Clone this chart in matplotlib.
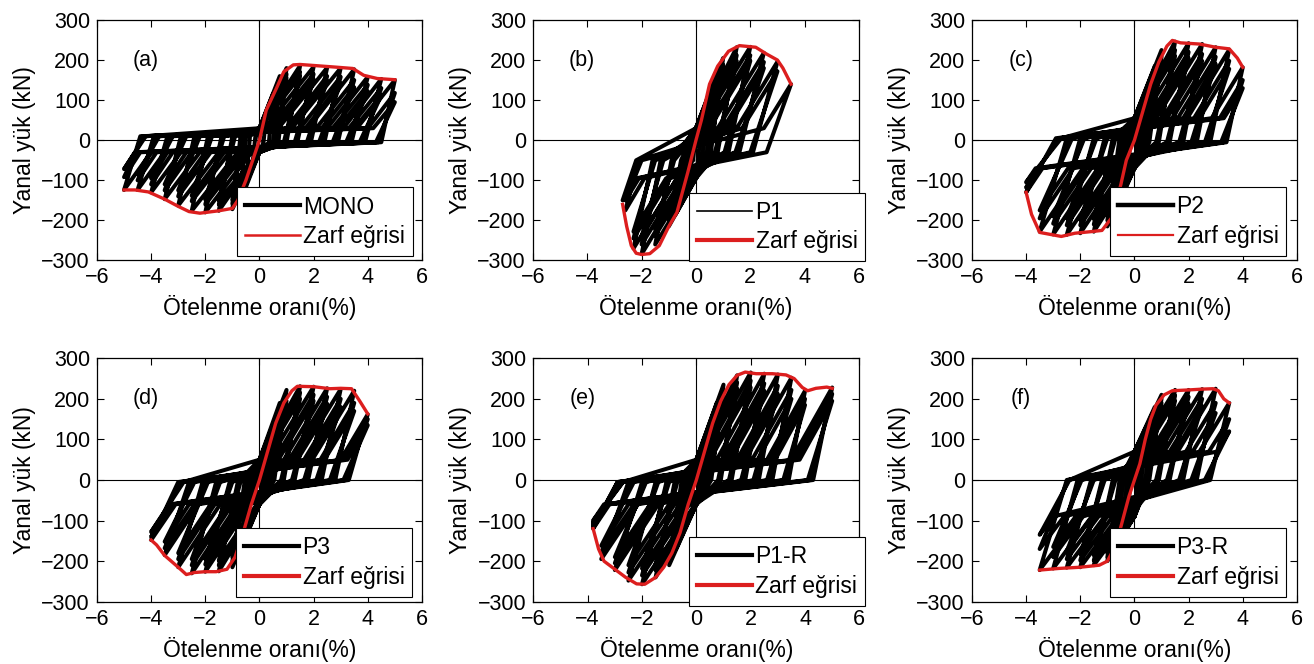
import numpy as np
import matplotlib
matplotlib.use("Agg")
import matplotlib.pyplot as plt
from matplotlib.lines import Line2D

plt.rcParams["font.family"] = ["Liberation Sans", "DejaVu Sans"]

# cycle data per specimen:
#   dp/fp positive peak, up drift where unloading from + ends, kxp drift where + reloading turns up
#   dn/fn negative peak, un drift where unloading from - ends, kxn drift where - reloading turns down
#   pinch = [lp, qn, ln, qp]: load at + unloading end, pinched load going -,
#           load at - unloading end, pinched load going +

# MONO
mono_dp = [0.25, 0.5, 0.75, 1.0, 1.0, 1.0, 1.5, 1.5, 1.5, 2.0, 2.0, 2.0, 2.5, 2.5, 2.5,
           3.0, 3.0, 3.0, 3.5, 3.5, 3.5, 4.0, 4.0, 4.0, 4.5, 4.5, 4.5, 5.0, 5.0, 5.0]
mono_fp = [60, 115, 160, 180, 165, 155, 186, 170, 160, 183, 165, 152, 181, 160, 148,
           180, 158, 142, 177, 150, 132, 158, 138, 122, 153, 130, 112, 150, 118, 95]
mono_up = [0.15, 0.35, 0.5, 0.7, 0.65, 0.6, 1.0, 0.95, 0.9, 1.4, 1.35, 1.3, 1.9, 1.8, 1.75,
           2.4, 2.3, 2.2, 2.9, 2.8, 2.7, 3.4, 3.3, 3.2, 3.9, 3.8, 3.7, 4.5, 4.4, 4.3]
mono_kxp = [0, 0, 0, 0, 0, 0, 0, 0, 0, 0.2, 0.4, 0.55, 0.7, 1.0, 1.1,
            1.2, 1.5, 1.7, 1.8, 2.1, 2.3, 2.5, 2.7, 2.9, 3.1, 3.3, 3.5, 3.6, 4.0, 4.2]
mono_dn = [-0.25, -0.5, -0.75, -1.0, -1.0, -1.0, -1.5, -1.5, -1.5, -2.0, -2.0, -2.0, -2.5, -2.5, -2.5,
           -3.0, -3.0, -3.0, -3.5, -3.5, -3.5, -4.0, -4.0, -4.0, -4.5, -4.5, -4.5, -5.0, -5.0, -5.0]
mono_fn = [-55, -110, -160, -172, -158, -148, -176, -160, -150, -180, -160, -148, -176, -152, -138,
           -163, -140, -125, -147, -125, -110, -130, -110, -95, -124, -100, -85, -124, -92, -72]
mono_un = [-0.15, -0.35, -0.5, -0.7, -0.65, -0.6, -1.0, -0.95, -0.9, -1.4, -1.35, -1.3, -1.9, -1.8, -1.75,
           -2.4, -2.3, -2.2, -2.9, -2.8, -2.7, -3.4, -3.3, -3.2, -3.9, -3.8, -3.7, -4.4, -4.3, -4.2]
mono_kxn = [0, 0, 0, 0, 0, 0, 0, 0, 0, -0.3, -0.5, -0.65, -0.8, -1.1, -1.3,
            -1.5, -1.8, -2.0, -2.2, -2.5, -2.7, -2.9, -3.2, -3.4, -3.5, -3.8, -4.0, -4.0, -4.4, -4.6]
mono_pinch = [-5, -30, 10, 30]
mono_env_x = [-5.0, -4.6, -4.1, -3.5, -3.0, -2.6, -2.2, -1.5, -1.0, -0.8, -0.5, -0.2, 0.0,
              0.25, 0.65, 0.9, 1.25, 1.5, 2.7, 3.45, 3.85, 4.35, 5.0]
mono_env_y = [-124, -124, -129, -147, -165, -178, -182, -176, -170, -150, -100, -40, 0,
              75, 133, 171, 188, 189, 183, 179, 162, 154, 151]

# P1
p1_dp = [0.25, 0.5, 0.75, 1.0, 1.0, 1.0, 1.5, 1.5, 1.5, 2.0, 2.0, 2.0, 2.5, 2.5, 2.5, 3.0, 3.0, 3.5]
p1_fp = [55, 115, 165, 205, 188, 175, 232, 212, 198, 233, 212, 198, 218, 195, 180, 196, 172, 140]
p1_up = [0.1, 0.25, 0.4, 0.55, 0.5, 0.5, 0.8, 0.75, 0.7, 1.2, 1.1, 1.05, 1.6, 1.5, 1.45, 2.1, 2.0, 2.6]
p1_kxp = [0, 0, 0, 0, 0, 0, 0, 0, 0, 0.15, 0.35, 0.5, 0.8, 1.0, 1.15, 1.5, 1.7, 2.5]
p1_dn = [-0.25, -0.5, -0.75, -1.0, -1.0, -1.0, -1.5, -1.5, -1.5, -2.0, -2.0, -2.0, -2.3, -2.3, -2.3, -2.6, -2.6, -2.7]
p1_fn = [-60, -120, -185, -215, -198, -185, -260, -238, -222, -284, -260, -240, -270, -245, -228, -175, -150, -150]
p1_un = [-0.1, -0.25, -0.4, -0.55, -0.5, -0.5, -0.9, -0.85, -0.8, -1.3, -1.25, -1.2, -1.6, -1.55, -1.5, -2.1, -2.0, -2.2]
p1_kxn = [0, 0, 0, 0, 0, -0.18, 0, -0.2, -0.35, -0.3, -0.5, -0.7, -0.7, -0.95, -1.1, -1.9, -2.1, -2.2]
p1_pinch = [-30, -95, -50, 30]
p1_env_x = [-2.7, -2.55, -2.38, -2.2, -2.0, -1.7, -1.35, -1.0, -0.7, -0.3, 0.0,
            0.2, 0.5, 0.8, 1.2, 1.6, 2.2, 2.6, 3.0, 3.2, 3.5]
p1_env_y = [-160, -215, -263, -282, -285, -283, -263, -215, -180, -80, 0,
            50, 140, 185, 222, 236, 232, 215, 200, 180, 140]

# P2
p2_dp = [0.25, 0.5, 0.75, 1.0, 1.0, 1.0, 1.5, 1.5, 1.5, 2.0, 2.0, 2.0,
         2.5, 2.5, 2.5, 3.0, 3.0, 3.0, 3.5, 3.5, 3.5, 4.0, 4.0, 4.0]
p2_fp = [60, 125, 185, 225, 208, 195, 246, 225, 210, 242, 220, 205,
         240, 215, 198, 232, 208, 190, 226, 198, 178, 182, 150, 130]
p2_up = [0.1, 0.25, 0.4, 0.55, 0.5, 0.5, 0.9, 0.85, 0.8, 1.3, 1.25, 1.2,
         1.8, 1.7, 1.65, 2.3, 2.2, 2.1, 2.8, 2.7, 2.6, 3.4, 3.3, 3.2]
p2_kxp = [0, 0, 0, 0, 0, 0, 0, 0, 0.1, 0.3, 0.5, 0.65,
          0.8, 1.05, 1.2, 1.4, 1.6, 1.8, 1.95, 2.2, 2.4, 2.85, 3.15, 3.3]
p2_dn = [-0.25, -0.5, -0.75, -1.0, -1.0, -1.0, -1.5, -1.5, -1.5, -2.0, -2.0, -2.0,
         -2.5, -2.5, -2.5, -3.0, -3.0, -3.0, -3.5, -3.5, -3.5, -4.0, -4.0, -4.0]
p2_fn = [-55, -120, -185, -215, -200, -188, -228, -210, -196, -232, -212, -198,
         -236, -212, -195, -235, -208, -190, -228, -195, -175, -130, -118, -105]
p2_un = [-0.1, -0.25, -0.4, -0.55, -0.5, -0.5, -0.8, -0.75, -0.7, -1.1, -1.05, -1.0,
         -1.5, -1.45, -1.4, -2.0, -1.9, -1.85, -2.5, -2.4, -2.3, -2.9, -2.8, -2.7]
p2_kxn = [0, 0, 0, 0, 0, 0, 0, -0.1, -0.25, -0.4, -0.6, -0.7,
          -0.85, -1.1, -1.25, -1.35, -1.6, -1.8, -1.9, -2.25, -2.45, -3.4, -3.5, -3.65]
p2_pinch = [-5, -70, 5, 55]
p2_env_x = [-4.0, -3.8, -3.5, -3.1, -2.7, -2.2, -1.6, -1.2, -0.8, -0.5, -0.3, 0.0,
            0.3, 0.6, 0.9, 1.2, 1.4, 1.7, 2.4, 3.0, 3.5, 3.8, 4.0]
p2_env_y = [-130, -185, -230, -235, -240, -232, -228, -225, -190, -110, -50, 0,
            70, 140, 195, 235, 249, 243, 240, 232, 228, 205, 182]

# P3
p3_dp = [0.25, 0.5, 0.75, 1.0, 1.0, 1.0, 1.5, 1.5, 1.5, 2.0, 2.0, 2.0,
         2.5, 2.5, 2.5, 3.0, 3.0, 3.0, 3.5, 3.5, 3.5, 4.0, 4.0, 4.0]
p3_fp = [60, 130, 190, 222, 208, 195, 231, 215, 200, 230, 210, 195,
         226, 205, 188, 224, 200, 180, 220, 190, 170, 162, 150, 135]
p3_up = [0.1, 0.25, 0.4, 0.55, 0.5, 0.5, 0.9, 0.85, 0.8, 1.3, 1.25, 1.2,
         1.8, 1.7, 1.65, 2.3, 2.2, 2.1, 2.8, 2.7, 2.6, 3.3, 3.2, 3.1]
p3_kxp = [0, 0, 0, 0, 0, 0, 0, 0, 0.15, 0.35, 0.55, 0.7,
          0.9, 1.1, 1.25, 1.4, 1.65, 1.8, 1.95, 2.25, 2.4, 3.0, 3.1, 3.25]
p3_dn = [-0.25, -0.5, -0.75, -1.0, -1.0, -1.0, -1.5, -1.5, -1.5, -2.0, -2.0, -2.0,
         -2.5, -2.5, -2.5, -3.0, -3.0, -3.0, -3.5, -3.5, -3.5, -4.0, -4.0, -4.0]
p3_fn = [-55, -120, -180, -215, -200, -190, -225, -210, -198, -226, -208, -195,
         -230, -210, -195, -215, -195, -180, -185, -168, -152, -148, -140, -128]
p3_un = [-0.1, -0.25, -0.4, -0.55, -0.5, -0.5, -0.8, -0.75, -0.7, -1.1, -1.05, -1.0,
         -1.6, -1.5, -1.45, -2.1, -2.0, -1.9, -2.6, -2.5, -2.4, -3.0, -2.9, -2.8]
p3_kxn = [0, 0, 0, 0, 0, 0, 0, 0, -0.1, -0.35, -0.5, -0.65,
          -0.8, -1.0, -1.15, -1.45, -1.65, -1.8, -2.25, -2.4, -2.6, -3.1, -3.2, -3.3]
p3_pinch = [0, -60, -5, 50]
p3_env_x = [-4.0, -3.8, -3.5, -3.0, -2.7, -2.4, -2.0, -1.6, -1.2, -0.9, -0.6, -0.3, 0.0,
            0.3, 0.6, 0.9, 1.2, 1.4, 2.0, 2.6, 3.0, 3.4, 3.7, 4.0]
p3_env_y = [-148, -160, -186, -215, -233, -228, -226, -226, -220, -190, -130, -60, 0,
            70, 140, 190, 220, 231, 230, 225, 226, 225, 195, 163]

# P1-R
p1r_dp = [0.25, 0.5, 0.75, 1.0, 1.0, 1.0, 1.5, 1.5, 1.5, 2.0, 2.0, 2.0, 2.5, 2.5, 2.5,
          3.0, 3.0, 3.0, 3.5, 3.5, 3.5, 4.0, 4.0, 4.0, 5.0, 5.0, 5.0]
p1r_fp = [60, 130, 190, 235, 220, 205, 258, 240, 225, 265, 245, 228, 262, 238, 220,
          260, 232, 212, 252, 222, 200, 220, 200, 185, 228, 212, 195]
p1r_up = [0.1, 0.25, 0.4, 0.55, 0.5, 0.5, 0.9, 0.85, 0.8, 1.3, 1.25, 1.2, 1.8, 1.7, 1.65,
          2.3, 2.2, 2.1, 2.8, 2.7, 2.6, 3.4, 3.3, 3.2, 4.3, 4.2, 4.1]
p1r_kxp = [0, 0, 0, 0, 0, 0, 0, 0, 0.05, 0.2, 0.4, 0.5, 0.75, 0.95, 1.1,
           1.25, 1.5, 1.65, 1.8, 2.05, 2.25, 2.6, 2.75, 2.9, 3.5, 3.65, 3.8]
p1r_dn = [-0.25, -0.5, -0.75, -1.0, -1.0, -1.0, -1.5, -1.5, -1.5, -2.0, -2.0, -2.0, -2.5, -2.5, -2.5,
          -3.0, -3.0, -3.0, -3.5, -3.5, -3.5, -3.8, -3.8, -3.8, -3.8, -3.8, -3.8]
p1r_fn = [-60, -120, -170, -210, -198, -188, -240, -222, -208, -257, -235, -218, -248, -228, -210,
          -222, -205, -190, -195, -178, -162, -120, -112, -105, -116, -108, -100]
p1r_un = [-0.1, -0.25, -0.4, -0.55, -0.5, -0.5, -0.8, -0.75, -0.7, -1.1, -1.05, -1.0, -1.5, -1.45, -1.4,
          -2.0, -1.9, -1.85, -2.5, -2.4, -2.3, -2.9, -2.8, -2.7, -2.9, -2.8, -2.7]
p1r_kxn = [0, 0, 0, 0, 0, 0, 0, 0, 0, -0.05, -0.25, -0.4, -0.6, -0.8, -1.0,
           -1.4, -1.55, -1.7, -2.15, -2.3, -2.5, -3.2, -3.3, -3.35, -3.25, -3.3, -3.4]
p1r_pinch = [0, -60, -5, 50]
p1r_env_x = [-3.8, -3.6, -3.4, -3.0, -2.6, -2.2, -1.9, -1.5, -1.2, -0.9, -0.6, -0.3, 0.0,
             0.3, 0.6, 0.9, 1.2, 1.5, 1.8, 2.2, 2.8, 3.3, 3.6, 3.9, 4.1, 4.4, 4.8, 5.0]
p1r_env_y = [-120, -170, -200, -220, -240, -256, -257, -240, -215, -180, -130, -60, 0,
             70, 140, 195, 235, 258, 266, 262, 262, 259, 250, 228, 220, 226, 229, 226]

# P3-R
p3r_dp = [0.25, 0.5, 0.75, 1.0, 1.0, 1.0, 1.5, 1.5, 1.5, 2.0, 2.0, 2.0,
          2.5, 2.5, 2.5, 3.0, 3.0, 3.0, 3.5, 3.5, 3.5]
p3r_fp = [70, 135, 180, 210, 200, 190, 222, 208, 195, 222, 205, 188,
          224, 200, 182, 225, 190, 165, 190, 150, 120]
p3r_up = [0.1, 0.25, 0.4, 0.55, 0.5, 0.5, 0.9, 0.85, 0.8, 1.3, 1.25, 1.2,
          1.8, 1.7, 1.65, 2.3, 2.2, 2.1, 2.8, 2.7, 2.6]
p3r_kxp = [0, 0, 0, 0, 0, 0, 0.1, 0.25, 0.35, 0.6, 0.75, 0.9,
           1.1, 1.3, 1.5, 1.6, 1.9, 2.15, 2.4, 2.75, 3.05]
p3r_dn = [-0.25, -0.5, -0.75, -1.0, -1.0, -1.0, -1.5, -1.5, -1.5, -2.0, -2.0, -2.0,
          -2.5, -2.5, -2.5, -3.0, -3.0, -3.0, -3.5, -3.5, -3.5]
p3r_fn = [-60, -120, -165, -200, -190, -180, -210, -198, -185, -215, -198, -182,
          -216, -195, -176, -218, -190, -165, -222, -170, -135]
p3r_un = [-0.1, -0.25, -0.4, -0.55, -0.5, -0.5, -0.8, -0.75, -0.7, -1.2, -1.15, -1.1,
          -1.6, -1.55, -1.5, -2.1, -2.0, -1.95, -2.5, -2.45, -2.4]
p3r_kxn = [0, 0, 0, 0, 0, 0, -0.17, -0.3, -0.45, -0.6, -0.8, -1.0,
           -1.1, -1.33, -1.55, -1.58, -1.9, -2.17, -2.03, -2.6, -3.0]
p3r_pinch = [0, -90, 0, 70]
p3r_env_x = [-3.5, -2.8, -2.0, -1.3, -1.0, -0.8, -0.6, -0.4, -0.2, 0.0,
             0.2, 0.4, 0.6, 0.8, 1.1, 1.4, 2.0, 2.5, 2.9, 3.1, 3.3, 3.5]
p3r_env_y = [-222, -218, -215, -210, -200, -175, -140, -90, -40, 0,
             40, 100, 150, 185, 210, 220, 222, 224, 225, 220, 200, 190]

names = ["MONO", "P1", "P2", "P3", "P1-R", "P3-R"]
tags = ["(a)", "(b)", "(c)", "(d)", "(e)", "(f)"]
cycles = [
    (mono_dp, mono_fp, mono_up, mono_kxp, mono_dn, mono_fn, mono_un, mono_kxn, mono_pinch),
    (p1_dp, p1_fp, p1_up, p1_kxp, p1_dn, p1_fn, p1_un, p1_kxn, p1_pinch),
    (p2_dp, p2_fp, p2_up, p2_kxp, p2_dn, p2_fn, p2_un, p2_kxn, p2_pinch),
    (p3_dp, p3_fp, p3_up, p3_kxp, p3_dn, p3_fn, p3_un, p3_kxn, p3_pinch),
    (p1r_dp, p1r_fp, p1r_up, p1r_kxp, p1r_dn, p1r_fn, p1r_un, p1r_kxn, p1r_pinch),
    (p3r_dp, p3r_fp, p3r_up, p3r_kxp, p3r_dn, p3r_fn, p3r_un, p3r_kxn, p3r_pinch),
]
envelopes = [
    (mono_env_x, mono_env_y), (p1_env_x, p1_env_y), (p2_env_x, p2_env_y),
    (p3_env_x, p3_env_y), (p1r_env_x, p1r_env_y), (p3r_env_x, p3r_env_y),
]

# axes boxes (left, bottom, width, height) in figure fraction
boxes = [
    [0.0738, 0.6077, 0.2473, 0.3622], [0.4056, 0.6077, 0.2481, 0.3622], [0.7397, 0.6077, 0.2473, 0.3622],
    [0.0738, 0.0938, 0.2473, 0.3666], [0.4059, 0.0938, 0.2481, 0.3666], [0.7397, 0.0938, 0.2473, 0.3666],
]
legend_anchor = [(0.431, 0.017), (0.479, -0.004), (0.425, 0.02), (0.428, 0.02), (0.476, -0.016), (0.425, 0.02)]
legend_lw = [(3.0, 1.8), (1.2, 3.0), (3.2, 1.6), (3.0, 3.0), (3.0, 3.0), (3.0, 3.0)]

RED = "#dc1e1e"


def loop_path(dp, fp, up, kxp, dn, fn, un, kxn, pinch):
    lp, qn, ln, qp = pinch
    xs, ys = [0.0], [0.0]
    for i in range(len(dp)):
        xs += [kxp[i], dp[i], up[i], kxn[i], dn[i], un[i]]
        ys += [qp, fp[i], lp, qn, fn[i], ln]
    xs.append(0.0)
    ys.append(qp)
    return np.array(xs), np.array(ys)


fig = plt.figure(figsize=(13.14, 6.64), dpi=100)

for k in range(6):
    ax = fig.add_axes(boxes[k])
    ax.axhline(0, color="k", lw=0.8, zorder=1)
    ax.axvline(0, color="k", lw=0.8, zorder=1)

    x, y = loop_path(*cycles[k])
    ax.plot(x, y, color="k", lw=2.9, solid_joinstyle="round", zorder=2)
    ex, ey = envelopes[k]
    ax.plot(ex, ey, color=RED, lw=2.4, solid_joinstyle="round", zorder=3)

    ax.set_xlim(-6, 6)
    ax.set_ylim(-300, 300)
    ax.set_xticks(np.arange(-6, 7, 2))
    ax.set_yticks(np.arange(-300, 301, 100))
    ax.tick_params(direction="in", length=5, width=0.8, top=True, right=True,
                   labelsize=15.5, pad=5)
    for s in ax.spines.values():
        s.set_linewidth(0.9)
    ax.set_xlabel("Ötelenme oranı(%)", fontsize=16.5, labelpad=5)
    ax.set_ylabel("Yanal yük (kN)", fontsize=16.5, labelpad=4)
    ax.text(-4.2, 200, tags[k], fontsize=15.5, ha="center", va="center")

    handles = [Line2D([0], [0], color="k", lw=legend_lw[k][0]),
               Line2D([0], [0], color=RED, lw=legend_lw[k][1])]
    leg = ax.legend(handles, [names[k], "Zarf eğrisi"], loc="lower left",
                    bbox_to_anchor=legend_anchor[k], borderaxespad=0,
                    fontsize=16.5, handlelength=2.4, handletextpad=0.15,
                    labelspacing=0.3, borderpad=0.35, fancybox=False,
                    framealpha=1, edgecolor="k")
    leg.get_frame().set_linewidth(0.8)

fig.savefig("out.png", dpi=100)
